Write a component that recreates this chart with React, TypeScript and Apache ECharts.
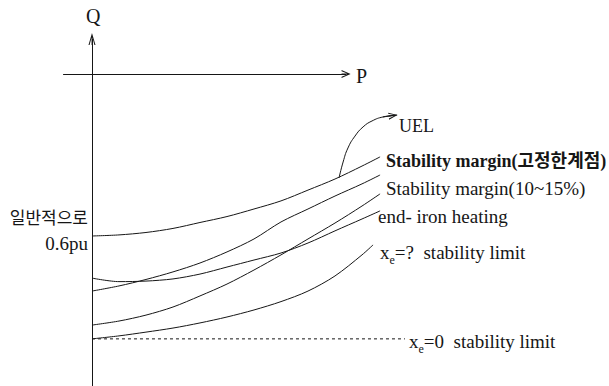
import React, { useEffect, useRef } from 'react';
import * as echarts from 'echarts';

// Active power samples (pu) shared by the limit curves
const pGrid = [0, 0.1, 0.2, 0.3, 0.4, 0.5, 0.6, 0.7, 0.8, 0.9, 1.0];

// Reactive power (pu, negative = under-excited) of each curve at pGrid, plus its last point
const uelQ = [-0.6, -0.596, -0.587, -0.572, -0.55, -0.528, -0.5, -0.47, -0.43, -0.389, -0.341];
const uelEnd = [1.067, -0.307];

const marginFixedQ = [-0.804, -0.785, -0.761, -0.733, -0.7, -0.659, -0.611, -0.548, -0.5, -0.452, -0.407];
const marginFixedEnd = [1.067, -0.374];

const marginPctQ = [-0.93, -0.915, -0.893, -0.863, -0.822, -0.778, -0.726, -0.67, -0.611, -0.552, -0.489];
const marginPctEnd = [1.067, -0.444];

const endIronQ = [-0.756, -0.769, -0.767, -0.759, -0.741, -0.715, -0.689, -0.663, -0.626, -0.581, -0.537];
const endIronEnd = [1.067, -0.507];

const xeLimitQ = [-0.981, -0.97, -0.956, -0.941, -0.922, -0.9, -0.874, -0.843, -0.804, -0.748, -0.67];
const xeLimitEnd = [1.041, -0.633];

// x_e = 0 steady-state stability limit (horizontal)
const xeZeroQ = -0.981;
const xeZeroP = [0, 1.159];

// Visible extent of the P-Q plane (pu)
const pView = [-0.3407, 1.9148];
const qView = [-1.1556, 0.2741];

// Axis arrows (pu)
const pAxisRange = [-0.107, 0.941];
const qAxisRange = [-1.1556, 0.13];

// UEL pointer: curved leader from the UEL curve up to its label
const uelPointerP = [0.915, 0.93, 0.948, 0.974, 1.004, 1.037, 1.078, 1.13];
const uelPointerQ = [-0.385, -0.326, -0.274, -0.23, -0.196, -0.174, -0.159, -0.152];
const uelHeadFrom = [1.078, -0.159];
const uelHeadTo = [1.115, -0.154];

const INK = '#161616';
const SERIF = 'Liberation Serif, DejaVu Serif, Noto Sans CJK KR, serif';
const CHEVRON = 'path://M5,0L10,12L8.5,12L5.6,4.5L5.6,12L4.4,12L4.4,4.5L1.5,12L0,12Z';

function toPairs(qs: number[], end: number[]) {
  const pts = qs.map((q, i) => [pGrid[i], q]);
  pts.push(end);
  return pts;
}

function curve(name: string, data: number[][], extra: any = {}) {
  return {
    name,
    type: 'line',
    data,
    smooth: 0.3,
    showSymbol: false,
    silent: true,
    lineStyle: { color: INK, width: 1 },
    ...extra,
  };
}

export default function App() {
  const ref = useRef<HTMLDivElement>(null);

  useEffect(() => {
    if (!ref.current) return;
    const chart = echarts.init(ref.current, undefined, { renderer: 'svg' });

    const arrowLine = (from: number[], to: number[], size: number[]) => [
      { coord: from, symbol: 'none' },
      { coord: to, symbol: CHEVRON, symbolSize: size },
    ];

    const text = (t: string, x: number, y: number, opts: any = {}) => ({
      type: 'text',
      x,
      y,
      silent: true,
      style: {
        text: t,
        fill: INK,
        fontSize: opts.size || 19,
        fontWeight: opts.weight || 'normal',
        fontFamily: opts.family || SERIF,
        textAlign: opts.align || 'left',
        textVerticalAlign: 'middle',
        ...(opts.rich ? { rich: opts.rich } : {}),
      },
    });

    const subRich = {
      a: { fontSize: 19, fontFamily: SERIF, color: INK, lineHeight: 28 },
      s: { fontSize: 12, fontFamily: SERIF, color: INK, lineHeight: 12, verticalAlign: 'bottom' },
    };

    chart.setOption({
      animation: false,
      backgroundColor: '#ffffff',
      grid: { left: 0, top: 0, right: 0, bottom: 0 },
      xAxis: { type: 'value', min: pView[0], max: pView[1], show: false },
      yAxis: { type: 'value', min: qView[0], max: qView[1], show: false },
      series: [
        curve('UEL', toPairs(uelQ, uelEnd), {
          markLine: {
            silent: true,
            animation: false,
            symbol: ['none', 'none'],
            label: { show: false },
            itemStyle: { color: INK },
            lineStyle: { color: INK, width: 1, type: 'solid' },
            emphasis: { disabled: true },
            data: [
              arrowLine([pAxisRange[0], 0], [pAxisRange[1], 0], [8, 9]),
              arrowLine([0, qAxisRange[0]], [0, qAxisRange[1]], [7, 12]),
              arrowLine(uelHeadFrom, uelHeadTo, [7, 9]),
            ],
          },
        }),
        curve(
          'UEL pointer',
          uelPointerP.map((p, i) => [p, uelPointerQ[i]]),
          { smooth: 0.5 }
        ),
        curve('Stability margin(고정한계점)', toPairs(marginFixedQ, marginFixedEnd)),
        curve('Stability margin(10~15%)', toPairs(marginPctQ, marginPctEnd)),
        curve('end-iron heating', toPairs(endIronQ, endIronEnd)),
        curve('x_e=? stability limit', toPairs(xeLimitQ, xeLimitEnd)),
        {
          name: 'x_e=0 stability limit',
          type: 'line',
          data: xeZeroP.map((p) => [p, xeZeroQ]),
          showSymbol: false,
          silent: true,
          lineStyle: { color: INK, width: 1, type: [3, 3] },
        },
      ],
      graphic: [
        text('Q', 86, 16, { size: 20 }),
        text('P', 356, 76, { size: 20 }),
        text('UEL', 399, 126, { size: 18 }),
        text('Stability margin(고정한계점)', 386, 161, { size: 18, weight: 'bold' }),
        text('Stability margin(10~15%)', 386, 188),
        text('end- iron heating', 378, 216),
        text('{a|x}{s|e}{a|=?  stability limit}', 380, 252, { rich: subRich }),
        text('{a|x}{s|e}{a|=0  stability limit}', 409, 341, { rich: subRich }),
        text('일반적으로', 88, 216, { size: 17, family: 'Noto Sans CJK KR, sans-serif', align: 'right' }),
        text('0.6pu', 88, 243, { align: 'right' }),
      ],
    });

    return () => chart.dispose();
  }, []);

  return (
    <div
      ref={ref}
      style={{ position: 'fixed', left: 0, top: 0, width: 609, height: 386, background: '#fff' }}
    />
  );
}
